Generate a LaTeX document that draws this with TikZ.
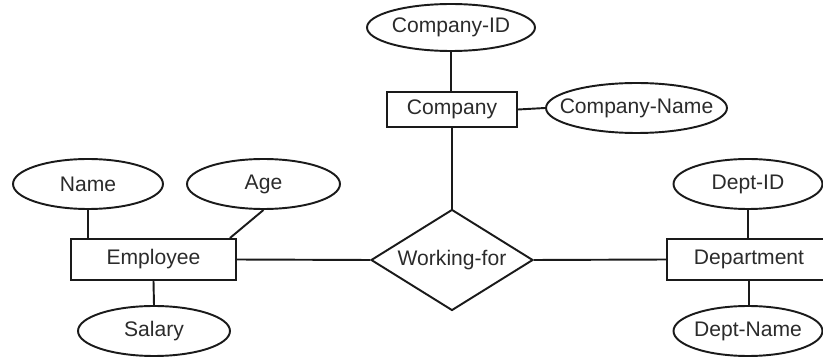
\documentclass[tikz,border=0pt]{standalone}
\usepackage{fontspec}
\setmainfont{Liberation Sans}
\usepackage{tikz}
\usetikzlibrary{shapes.geometric}
\definecolor{ink}{HTML}{1A1A1A}
\definecolor{label}{HTML}{2B2B2B}
\newcommand{\attrname}[1]{\makebox[0pt]{#1}}

\begin{document}
\begin{tikzpicture}[x=0.02cm,y=-0.02cm,line width=1.1pt,
  every node/.style={font=\fontsize{12}{14}\selectfont,text=label,draw=ink,inner sep=0pt},
  entity/.style={rectangle},
  attrib/.style={ellipse,minimum height=1cm},
  rel/.style={diamond,aspect=1.6,minimum width=3.24cm,minimum height=2.02cm}]
  \useasboundingbox (0,0) rectangle (823,358);
  \clip (0,0) rectangle (823,358);
  \node[entity,minimum width=3.3cm,minimum height=0.82cm] (employee) at (153.5,259.5) {Employee};
  \node[entity,minimum width=2.6cm,minimum height=0.7cm] (company) at (452,109.5) {Company};
  \node[entity,minimum width=3.28cm,minimum height=0.82cm] (dept) at (749,259.5) {Department};
  \node[rel] (works) at (452,260) {Working-for};
  \node[attrib,minimum width=3.0cm] (name) at (88,184) {\attrname{Name}};
  \node[attrib,minimum width=3.06cm] (age) at (263.5,184) {\attrname{Age}};
  \node[attrib,minimum width=3.04cm] (salary) at (154,331) {\attrname{Salary}};
  \node[attrib,minimum width=3.36cm,minimum height=0.94cm] (compid) at (451,27.5) {\attrname{Company-ID}};
  \node[attrib,minimum width=3.62cm] (compname) at (636.5,108) {\attrname{Company-Name}};
  \node[attrib,minimum width=2.98cm] (deptid) at (748,184) {\attrname{Dept-ID}};
  \node[attrib,minimum width=2.98cm] (deptname) at (748,331) {\attrname{Dept-Name}};
  \draw[draw=ink] (name.south) -- (name.south |- employee.north);
  \draw[draw=ink] (age.south) -- ([xshift=-0.14cm]employee.north east);
  \draw[draw=ink] (employee.south) -- (salary.north);
  \draw[draw=ink] (employee.east) -- (works.west);
  \draw[draw=ink] (works.east) -- (dept.west);
  \draw[draw=ink] (company.south) -- (works.north);
  \draw[draw=ink] (compid.south) -- (compid.south |- company.north);
  \draw[draw=ink] (company.east) -- (compname.west);
  \draw[draw=ink] (deptid.south) -- (deptid.south |- dept.north);
  \draw[draw=ink] (dept.south) -- (dept.south |- deptname.north);
\end{tikzpicture}
\end{document}
